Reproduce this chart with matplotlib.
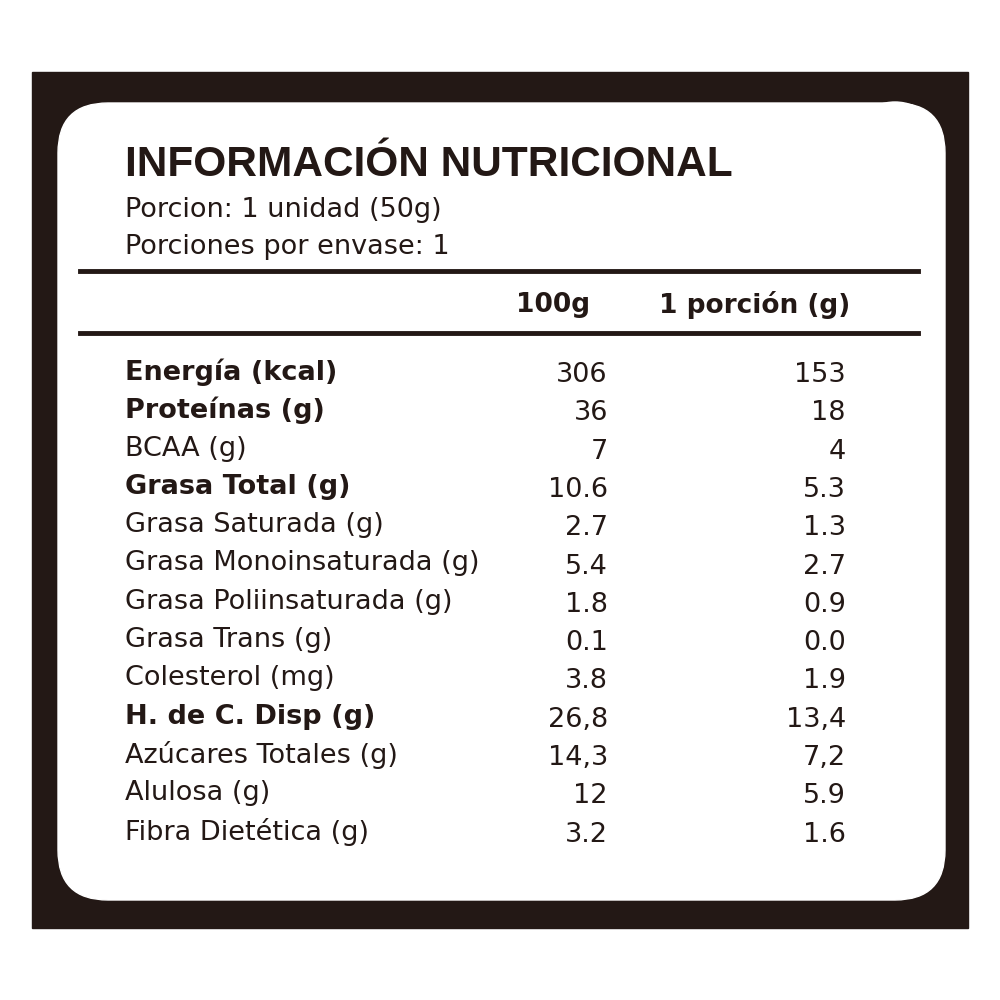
import matplotlib
matplotlib.use("Agg")
import matplotlib.pyplot as plt
from matplotlib.patches import FancyBboxPatch, Rectangle, Circle

title = "INFORMACIÓN NUTRICIONAL"
subtitles = ["Porcion: 1 unidad (50g)", "Porciones por envase: 1"]
headers = ["100g", "1 porción (g)"]
labels = ["Energía (kcal)", "Proteínas (g)", "BCAA (g)", "Grasa Total (g)", "Grasa Saturada (g)",
          "Grasa Monoinsaturada (g)", "Grasa Poliinsaturada (g)", "Grasa Trans (g)", "Colesterol (mg)",
          "H. de C. Disp (g)", "Azúcares Totales (g)", "Alulosa (g)", "Fibra Dietética (g)"]
bold = [True, True, False, True, False, False, False, False, False, True, False, False, False]
per100 = ["306", "36", "7", "10.6", "2.7", "5.4", "1.8", "0.1", "3.8", "26,8", "14,3", "12", "3.2"]
perportion = ["153", "18", "4", "5.3", "1.3", "2.7", "0.9", "0.0", "1.9", "13,4", "7,2", "5.9", "1.6"]

plt.rcParams['font.family'] = ['DejaVu Sans']
fig = plt.figure(figsize=(10, 10), dpi=100)
ax = fig.add_axes([0, 0, 1, 1])
ax.set_xlim(0, 1000); ax.set_ylim(1000, 0); ax.axis('off')
dark = '#231815'
ax.add_patch(Rectangle((32, 72), 936, 856, color=dark))
ax.add_patch(FancyBboxPatch((58, 103), 887, 797, boxstyle="round,pad=0,rounding_size=50", color='white'))
ax.add_patch(Circle((895, 150), 48, color='white'))

ax.text(125, 165, title, fontsize=30.5, fontweight='bold', color=dark, va='center',
        family=['Liberation Sans', 'DejaVu Sans'])
ax.text(125, 210, subtitles[0], fontsize=19.5, color=dark, va='center')
ax.text(125, 247, subtitles[1], fontsize=19.5, color=dark, va='center')
ax.plot([80, 918], [271, 271], color=dark, lw=3.5)
ax.plot([80, 918], [333, 333], color=dark, lw=3.5)
ax.text(553, 305, headers[0], fontsize=19, fontweight='bold', ha='center', va='center', color=dark)
ax.text(755, 305, headers[1], fontsize=19, fontweight='bold', ha='center', va='center', color=dark)

for i, (l, b, a, p) in enumerate(zip(labels, bold, per100, perportion)):
    y = 372 + i * 38.3
    ax.text(125, y, l, fontsize=19.5, fontweight='bold' if b else 'normal', va='center', color=dark)
    ax.text(608, y + 3, a, fontsize=19.5, ha='right', va='center', color=dark)
    ax.text(846, y + 3, p, fontsize=19.5, ha='right', va='center', color=dark)

fig.savefig("out.png", dpi=100)
